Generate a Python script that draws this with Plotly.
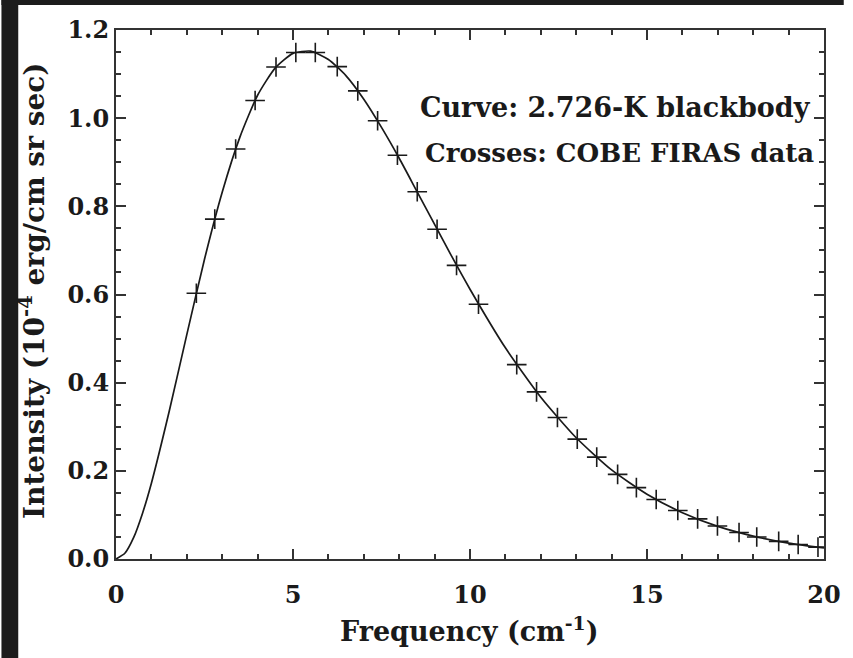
import plotly.graph_objects as go

# Blackbody curve
curve_freq = [0, 0.25, 0.5, 0.75, 1, 1.5, 2, 2.5, 3, 3.5, 4, 4.5, 5, 5.5, 6, 6.5, 7, 7.5,
              8, 8.5, 9, 9.5, 10, 11, 12, 13, 14, 15, 16, 17, 18, 19, 20]
curve_int = [0, 0.013, 0.049, 0.104, 0.172, 0.334, 0.509, 0.680, 0.832, 0.957, 1.052, 1.114,
             1.147, 1.152, 1.133, 1.096, 1.043, 0.979, 0.909, 0.834, 0.759, 0.684, 0.612,
             0.479, 0.367, 0.275, 0.202, 0.147, 0.105, 0.074, 0.052, 0.036, 0.025]

# COBE FIRAS data points (crosses)
data_freq = [2.27, 2.79, 3.38, 3.93, 4.52, 5.08, 5.63, 6.25, 6.83, 7.39, 7.95, 8.51, 9.07,
             9.62, 10.24, 11.32, 11.88, 12.47, 13.03, 13.58, 14.17, 14.70, 15.26, 15.87,
             16.43, 16.99, 17.60, 18.10, 18.72, 19.27, 19.83]
data_int = [0.603, 0.771, 0.930, 1.040, 1.116, 1.149, 1.149, 1.117, 1.062, 0.994, 0.916,
            0.833, 0.748, 0.666, 0.578, 0.441, 0.379, 0.321, 0.272, 0.231, 0.192, 0.162,
            0.135, 0.110, 0.091, 0.075, 0.060, 0.050, 0.040, 0.033, 0.027]

x_ticks = [0, 5, 10, 15, 20]
x_labels = ["0", "5", "10", "15", "20"]
y_ticks = [0.0, 0.2, 0.4, 0.6, 0.8, 1.0, 1.2]
y_labels = ["0.0", "0.2", "0.4", "0.6", "0.8", "1.0", "1.2"]

W, H = 853, 658
L, R, T, B = 116, 20, 30, 99
pw, ph = W - L - R, H - T - B

FONT = "DejaVu Serif"
INK = "#1a1a1a"

fig = go.Figure()
fig.add_trace(go.Scatter(x=curve_freq, y=curve_int, mode="lines",
                         line=dict(color=INK, width=1.7, shape="spline", smoothing=0.6),
                         hoverinfo="skip", showlegend=False))
fig.add_trace(go.Scatter(x=data_freq, y=data_int, mode="markers",
                         marker=dict(symbol="cross-thin", size=14,
                                     line=dict(color=INK, width=1.6)),
                         showlegend=False))

axis_common = dict(showgrid=False, zeroline=False, showline=True, linecolor="#333333",
                   linewidth=2, mirror="ticks", ticks="inside", tickcolor="#333333",
                   tickwidth=1.5, ticklen=10,
                   tickfont=dict(family=FONT, size=24, color=INK, weight="bold"))

fig.update_xaxes(range=[0, 20], tickvals=x_ticks, ticktext=x_labels,
                 minor=dict(dtick=1, ticks="inside", ticklen=5, tickcolor="#333333", tickwidth=1.5),
                 ticklabelstandoff=13, **axis_common)
fig.update_yaxes(range=[0, 1.2], tickvals=y_ticks, ticktext=y_labels,
                 minor=dict(dtick=0.05, ticks="inside", ticklen=5, tickcolor="#333333", tickwidth=1.5),
                 ticklabelstandoff=0, **axis_common)

def px_x(p):
    return (p - L) / pw

def px_y(p):
    return (H - B - p) / ph

annots = [
    dict(text="Curve: 2.726-K blackbody", x=px_x(422), y=px_y(108), xanchor="left", yanchor="middle",
         font=dict(family=FONT, size=27, color=INK, weight="bold")),
    dict(text="Crosses: COBE FIRAS data", x=px_x(427), y=px_y(153), xanchor="left", yanchor="middle",
         font=dict(family=FONT, size=26, color=INK, weight="bold")),
    dict(text="Frequency (cm<sup>-1</sup>)", x=px_x(474), y=px_y(629), xanchor="center", yanchor="middle",
         font=dict(family=FONT, size=27, color=INK, weight="bold")),
    dict(text="Intensity (10<sup>-4</sup> erg/cm sr sec)", x=px_x(31), y=px_y(291), xanchor="center",
         yanchor="middle", textangle=-90,
         font=dict(family=FONT, size=28, color=INK, weight="bold")),
]
for a in annots:
    fig.add_annotation(xref="paper", yref="paper", showarrow=False, **a)

# black frame strips (left and top edges of the photo)
fig.add_shape(type="rect", xref="paper", yref="paper", x0=px_x(0), x1=px_x(17),
              y0=px_y(H), y1=px_y(0), fillcolor="#1c1c1c", line=dict(width=0), layer="above")
fig.add_shape(type="rect", xref="paper", yref="paper", x0=px_x(0), x1=px_x(W),
              y0=px_y(5), y1=px_y(0), fillcolor="#1c1c1c", line=dict(width=0), layer="above")

fig.update_layout(width=W, height=H, margin=dict(l=L, r=R, t=T, b=B),
                  paper_bgcolor="white", plot_bgcolor="white", showlegend=False)

fig.write_html("out.html")
